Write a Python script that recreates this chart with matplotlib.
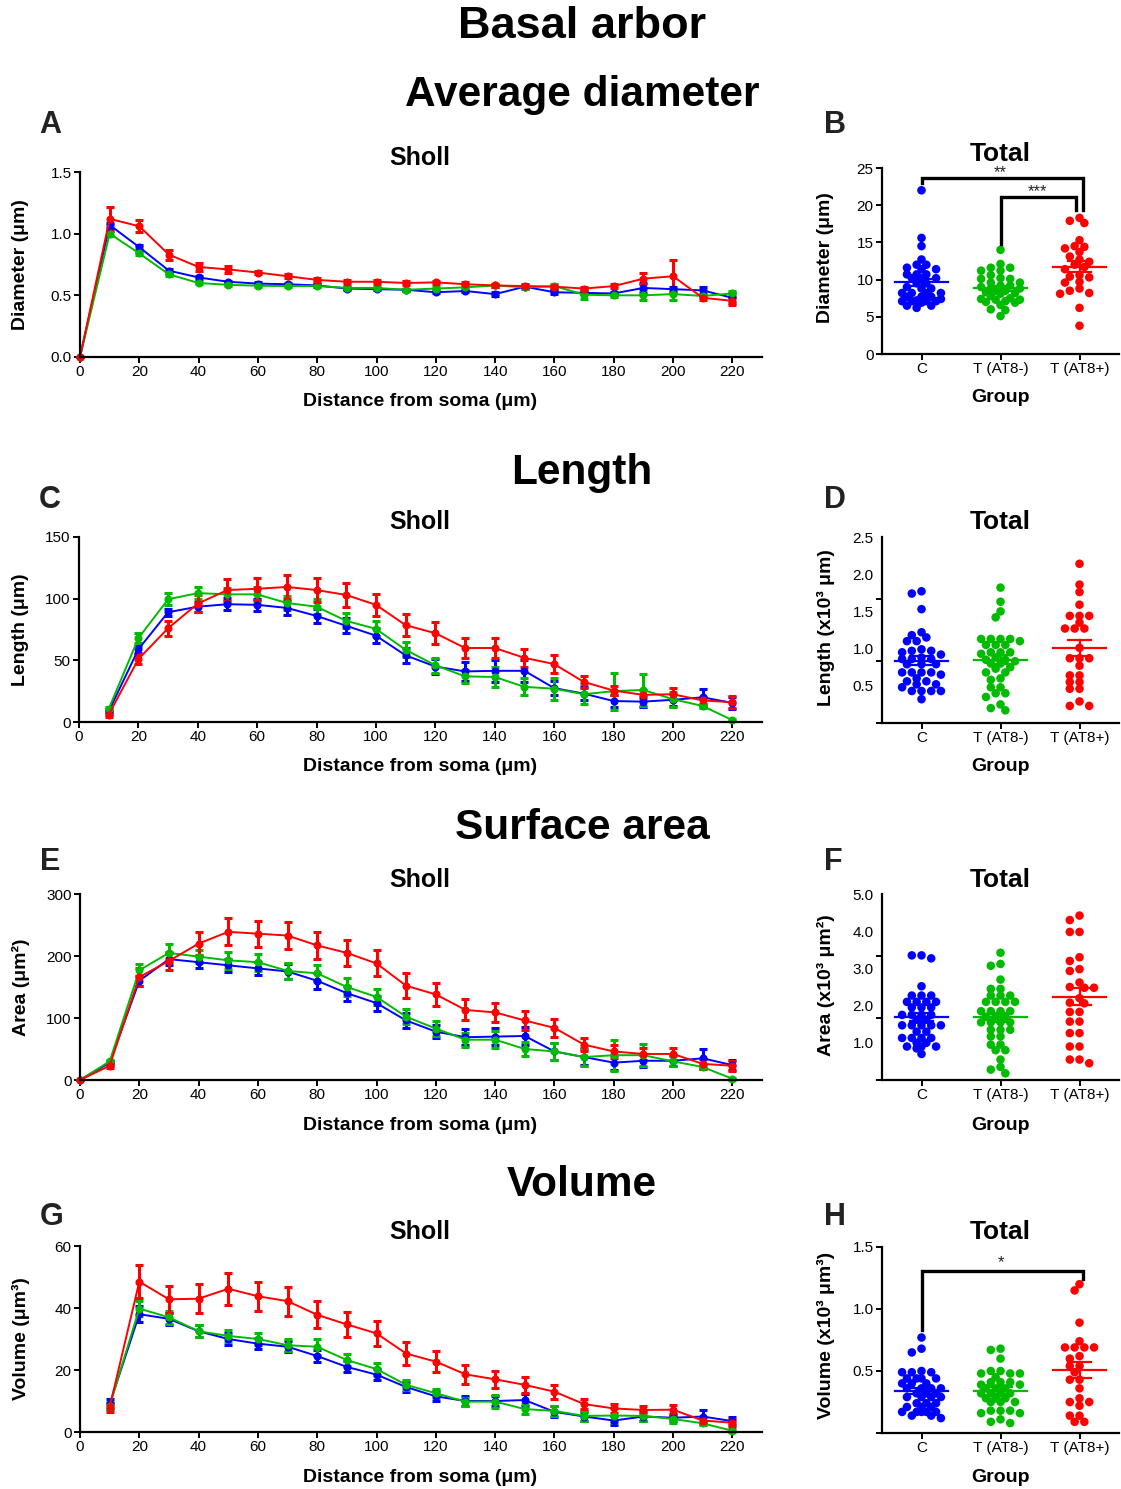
import numpy as np
import matplotlib
matplotlib.use('Agg')
import matplotlib.pyplot as plt
from matplotlib.ticker import FixedLocator

plt.rcParams['font.family'] = ['Liberation Sans', 'DejaVu Sans']

# ---------------- data ----------------
groups = ['C', 'T (AT8-)', 'T (AT8+)']
colors = ['#0000ff', '#00bb00', '#ff0000']

dist0 = list(range(0, 221, 10))     # with point at 0
dist10 = list(range(10, 221, 10))   # starting at 10

# A: diameter (Sholl)
diam_C = [0, 1.07, 0.89, 0.70, 0.645, 0.61, 0.595, 0.59, 0.58, 0.555, 0.55, 0.545, 0.525, 0.535, 0.51, 0.57, 0.525, 0.52, 0.515, 0.56, 0.55, 0.54, 0.48]
diam_C_sem = [0, 0.02, 0.02, 0.015, 0.015, 0.01, 0.01, 0.01, 0.01, 0.01, 0.01, 0.01, 0.01, 0.01, 0.015, 0.01, 0.015, 0.01, 0.015, 0.04, 0.02, 0.03, 0.04]
diam_N = [0, 1.00, 0.84, 0.67, 0.60, 0.585, 0.578, 0.575, 0.575, 0.56, 0.56, 0.545, 0.555, 0.565, 0.58, 0.565, 0.575, 0.505, 0.50, 0.50, 0.51, 0.495, 0.515]
diam_N_sem = [0, 0.02, 0.015, 0.012, 0.01, 0.01, 0.01, 0.01, 0.01, 0.01, 0.01, 0.01, 0.01, 0.01, 0.015, 0.01, 0.02, 0.035, 0.015, 0.04, 0.05, 0.01, 0.02]
diam_P = [0, 1.12, 1.06, 0.83, 0.73, 0.71, 0.685, 0.655, 0.625, 0.61, 0.61, 0.60, 0.605, 0.59, 0.58, 0.575, 0.57, 0.555, 0.575, 0.635, 0.655, 0.48, 0.455]
diam_P_sem = [0, 0.10, 0.05, 0.04, 0.03, 0.03, 0.015, 0.015, 0.015, 0.015, 0.015, 0.015, 0.015, 0.015, 0.015, 0.015, 0.015, 0.015, 0.015, 0.045, 0.13, 0.015, 0.03]

# C: length (Sholl)
len_C = [8.6, 59, 89, 93.5, 95.5, 95, 92.5, 86, 78, 70, 54, 45, 41, 41.5, 41.5, 27.5, 23, 17, 16.5, 18, 20, 15.5]
len_C_sem = [2, 3, 3, 4, 5, 5, 6, 6, 6, 6, 6, 6, 8, 9, 9, 6, 5, 5, 4, 5, 7, 5]
len_N = [10.5, 68, 99.5, 104.5, 103.5, 103.5, 96.5, 93.5, 82, 75.5, 58.5, 46, 37, 36.5, 28.5, 27, 22.5, 25, 26, 18.5, 13, 1.5]
len_N_sem = [2, 4, 5, 5, 5, 6, 6, 6, 6, 6, 6, 6, 5, 8, 7, 9, 8, 15, 13, 6, 2, 1]
len_P = [6, 51, 76, 96, 107, 108, 109.5, 107, 103, 95, 78.5, 72, 60, 60, 52, 47, 32.5, 25.5, 22, 22.5, 17.5, 16]
len_P_sem = [2, 4, 6, 7, 9, 9, 10, 10, 10, 9, 9, 9, 8, 8, 7, 7, 5, 4, 4, 5, 3, 5]

# E: area (Sholl)
area_C = [0, 28, 160, 195, 190, 185, 180, 175, 160, 140, 124, 96, 78, 69, 70, 71, 46, 37, 28, 31, 31, 35, 24]
area_C_sem = [0, 3, 8, 10, 10, 10, 10, 12, 13, 12, 12, 12, 11, 13, 14, 15, 14, 13, 12, 10, 9, 15, 8]
area_N = [0, 30, 177, 205, 199, 193, 190, 176, 172, 150, 134, 102, 83, 65, 65, 50, 46, 37, 40, 40, 30, 21, 2]
area_N_sem = [0, 3, 10, 14, 11, 14, 14, 13, 13, 14, 13, 12, 12, 11, 14, 12, 14, 14, 25, 18, 8, 4, 2]
area_P = [0, 23, 166, 192, 220, 239, 236, 233, 217, 205, 188, 152, 138, 113, 109, 96, 84, 57, 46, 42, 42, 26, 23]
area_P_sem = [0, 4, 15, 14, 19, 22, 21, 22, 22, 21, 21, 20, 18, 17, 16, 15, 14, 10, 10, 10, 10, 8, 8]

# G: volume (Sholl)
vol_C = [9, 38, 36.5, 32.5, 30, 28.5, 27.5, 24.5, 21, 18.5, 14.5, 11.5, 10, 10, 10.3, 6.5, 5, 3.7, 5, 4.6, 5, 3.5]
vol_C_sem = [1.5, 2.5, 2, 2, 1.8, 1.8, 1.8, 2, 1.8, 1.8, 1.6, 1.6, 1.5, 1.7, 2, 1.8, 1.5, 1.5, 1.5, 1.2, 2.2, 1.2]
vol_N = [8.5, 39.8, 37, 32.5, 31, 30, 28, 27.5, 23.2, 20.3, 15.2, 12.5, 9.8, 9.8, 7.4, 6.8, 5.2, 5.3, 5.2, 4.2, 2.8, 0.4]
vol_N_sem = [1.2, 2.5, 2, 2, 2, 2, 2, 2.5, 2, 2, 1.5, 1.5, 1.3, 2, 1.5, 1.5, 1.5, 2.5, 1.8, 1.2, 0.5, 0.3]
vol_P = [8, 48.5, 42.8, 43, 46.2, 43.8, 42.2, 37.8, 34.7, 31.8, 25.3, 22.7, 18.6, 17, 15.2, 13, 9, 7.6, 7.1, 7.2, 3.7, 3]
vol_P_sem = [1.5, 5.3, 4.3, 4.7, 5.2, 4.7, 4.7, 4.3, 4, 4, 3.8, 3.3, 3, 2.8, 2.5, 2.2, 1.6, 1.4, 1.4, 1.6, 1, 1.3]

# B: total diameter (µm)
totdiam_C = [22.0, 15.6, 14.5, 12.7, 12.0, 12.0, 11.6, 11.4, 11.4, 10.7, 10.7, 10.7, 10.2, 10.2, 10.2, 9.5, 9.5, 9.0, 8.8, 8.8, 8.2, 8.2, 8.2, 8.2, 7.7, 7.7, 7.7, 7.4, 7.2, 7.1, 7.1, 7.1, 7.1, 6.9, 6.5, 6.5, 6.2]
totdiam_N = [14.0, 12.1, 11.6, 11.6, 11.2, 11.2, 10.6, 10.2, 10.1, 10.1, 9.6, 9.6, 9.2, 9.2, 9.0, 8.8, 8.8, 8.5, 8.5, 8.3, 8.2, 8.1, 7.8, 7.5, 7.4, 7.3, 7.3, 7.1, 7.0, 6.9, 6.6, 6.0, 5.9, 5.1]
totdiam_P = [18.3, 17.9, 17.6, 15.3, 14.5, 14.4, 14.2, 13.7, 13.1, 12.7, 12.4, 12.0, 11.7, 11.4, 10.6, 10.4, 10.3, 9.7, 9.6, 8.8, 8.5, 8.2, 8.1, 6.2, 3.8]

# D: total length (x10^3 µm)
totlen_C = [1.77, 1.74, 1.53, 1.22, 1.18, 1.15, 1.10, 1.10, 0.99, 0.97, 0.97, 0.95, 0.92, 0.88, 0.86, 0.86, 0.86, 0.79, 0.79, 0.79, 0.68, 0.68, 0.68, 0.68, 0.65, 0.60, 0.56, 0.56, 0.52, 0.52, 0.48, 0.43, 0.43, 0.43, 0.43, 0.32]
totlen_N = [1.82, 1.63, 1.50, 1.42, 1.13, 1.13, 1.13, 1.13, 1.10, 1.05, 1.05, 1.05, 0.95, 0.95, 0.95, 0.93, 0.88, 0.85, 0.85, 0.83, 0.80, 0.80, 0.75, 0.73, 0.68, 0.68, 0.60, 0.58, 0.48, 0.48, 0.40, 0.40, 0.35, 0.25, 0.20, 0.17]
totlen_P = [2.14, 1.86, 1.76, 1.59, 1.44, 1.44, 1.44, 1.35, 1.27, 1.27, 1.27, 1.01, 0.87, 0.87, 0.87, 0.77, 0.64, 0.64, 0.55, 0.55, 0.46, 0.46, 0.29, 0.23, 0.23]

# F: total area (x10^3 µm²)
totarea_C = [3.35, 3.35, 3.27, 2.52, 2.27, 2.27, 2.27, 2.10, 2.10, 2.10, 2.10, 1.95, 1.95, 1.95, 1.75, 1.75, 1.75, 1.75, 1.62, 1.62, 1.47, 1.47, 1.47, 1.47, 1.47, 1.30, 1.30, 1.13, 1.13, 1.13, 1.13, 1.00, 1.00, 0.90, 0.90, 0.90, 0.85, 0.70]
totarea_N = [3.42, 3.12, 3.07, 2.70, 2.45, 2.45, 2.27, 2.27, 2.27, 2.10, 2.10, 2.10, 2.10, 1.85, 1.85, 1.85, 1.85, 1.70, 1.70, 1.70, 1.55, 1.55, 1.55, 1.55, 1.35, 1.35, 1.35, 1.17, 1.17, 0.95, 0.95, 0.80, 0.80, 0.55, 0.35, 0.28, 0.18]
totarea_P = [4.42, 4.30, 3.98, 3.98, 3.30, 3.20, 2.98, 2.93, 2.62, 2.50, 2.48, 2.48, 2.20, 2.08, 2.06, 1.83, 1.83, 1.57, 1.57, 1.26, 1.26, 0.90, 0.90, 0.55, 0.55, 0.45]

# H: total volume (x10^3 µm³)
totvol_C = [0.77, 0.68, 0.65, 0.50, 0.49, 0.49, 0.49, 0.44, 0.44, 0.44, 0.44, 0.40, 0.40, 0.40, 0.36, 0.36, 0.36, 0.36, 0.32, 0.32, 0.32, 0.29, 0.29, 0.29, 0.29, 0.24, 0.24, 0.24, 0.21, 0.21, 0.21, 0.17, 0.17, 0.17, 0.17, 0.17, 0.14, 0.14, 0.12]
totvol_N = [0.68, 0.67, 0.60, 0.50, 0.50, 0.48, 0.48, 0.48, 0.45, 0.41, 0.41, 0.41, 0.39, 0.39, 0.36, 0.36, 0.36, 0.32, 0.32, 0.32, 0.32, 0.28, 0.28, 0.28, 0.25, 0.25, 0.25, 0.18, 0.18, 0.18, 0.16, 0.16, 0.11, 0.09, 0.08]
totvol_P = [1.20, 1.15, 0.89, 0.74, 0.69, 0.69, 0.69, 0.69, 0.62, 0.60, 0.54, 0.54, 0.49, 0.43, 0.43, 0.36, 0.28, 0.25, 0.25, 0.22, 0.14, 0.14, 0.09, 0.09]

# ---------------- layout helpers ----------------
W, H = 1121, 1489
fig = plt.figure(figsize=(W / 100, H / 100), dpi=100)


def ax_px(l, t, r, b):
    return fig.add_axes([l / W, 1 - b / H, (r - l) / W, (b - t) / H])


def ftext(x, y, s, rot=0, **kw):
    fig.text(x / W, 1 - y / H, s, ha='center', va='center', rotation=rot, **kw)


def style_axes(ax):
    for s in ('top', 'right'):
        ax.spines[s].set_visible(False)
    for s in ('left', 'bottom'):
        ax.spines[s].set_linewidth(1.6)
    ax.tick_params(direction='out', length=4, width=1.4, labelsize=11, pad=2)


def sholl(ax, x, series, ylim, ystep, fmt):
    for (y, e), col in zip(series, colors):
        ax.errorbar(x, y, yerr=e, color=col, lw=1.4, marker='o', ms=4.8,
                    capsize=2.8, capthick=2.2, elinewidth=2.2, clip_on=False)
    ax.set_xlim(0, 230)
    ax.set_ylim(0, ylim)
    ax.set_xticks(list(range(0, 221, 20)))
    ax.set_yticks(np.arange(0, ylim + 1e-9, ystep))
    ax.set_yticklabels([fmt.format(v) for v in np.arange(0, ylim + 1e-9, ystep)])
    style_axes(ax)


def grid_swarm_x(ax, xc, vals, slot=4.85, nside=4, dmin=6.6):
    """Column scatter on a fixed grid of x slots (GraphPad-like)."""
    t = ax.transData
    ppu = t.transform((1, 0))[0] - t.transform((0, 0))[0]
    py = np.array([t.transform((xc, v))[1] for v in vals])
    ks = [0]
    for k in range(1, nside + 1):
        ks += [-k, k]
    order = np.argsort(-np.asarray(vals), kind='stable')
    placed = []
    xs = np.zeros(len(vals))
    for i in order:
        best_k, best_d = None, -1
        for k in ks:
            px = k * slot
            d = min([np.hypot(px - qx, py[i] - qy) for qx, qy in placed] or [1e9])
            if d >= dmin:
                best_k = k
                break
            if d > best_d:
                best_d, best_k = d, k
        placed.append((best_k * slot, py[i]))
        xs[i] = xc + best_k * slot / ppu
    return xs


def total(ax, data, ylim):
    ax.set_xlim(-0.5, 2.5)
    ax.set_ylim(*ylim)
    for k, (vals, col) in enumerate(zip(data, colors)):
        vals = np.asarray(vals, float)
        xs = grid_swarm_x(ax, k, vals)
        ax.scatter(xs, vals, s=38, color=col, edgecolors='none', zorder=3, clip_on=False)
        m = vals.mean()
        se = vals.std(ddof=1) / np.sqrt(len(vals))
        ax.plot([k - 0.34, k + 0.34], [m, m], color=col, lw=1.6, zorder=4)
        ax.plot([k, k], [m - se, m + se], color=col, lw=1.6, zorder=4)
        for yy in (m - se, m + se):
            ax.plot([k - 0.15, k + 0.15], [yy, yy], color=col, lw=1.6, zorder=4)
    ax.set_xticks([0, 1, 2])
    ax.set_xticklabels(groups)
    style_axes(ax)


def bracket(ax, x1, y1, x2, y2, ytop, text, ty, tx):
    ax.plot([x1, x1, x2, x2], [y1, ytop, ytop, y2], color='black', lw=2.4,
            solid_joinstyle='miter', clip_on=False, zorder=5)
    ax.text(tx, ty, text, ha='center', va='center', fontsize=12, color='#222222')


# ---------------- titles ----------------
ftext(582, 27, 'Basal arbor', fontsize=32.5, fontweight='bold')
ftext(582, 95, 'Average diameter', fontsize=30.5, fontweight='bold')
ftext(582, 473, 'Length', fontsize=30.5, fontweight='bold')
ftext(582, 828, 'Surface area', fontsize=30.5, fontweight='bold')
ftext(582, 1185, 'Volume', fontsize=30.5, fontweight='bold')

for lab, x, y in [('A', 50, 125), ('B', 835, 125), ('C', 50, 500), ('D', 835, 500),
                  ('E', 50, 862), ('F', 833, 862), ('G', 52, 1217), ('H', 835, 1217)]:
    ftext(x, y, lab, fontsize=22, fontweight='bold', color='#222222')

rows = [(172, 357, 158, 402), (537, 722, 522, 767), (894, 1080, 880, 1125), (1246, 1432, 1232, 1477)]
ylabels_l = ['Diameter (μm)', 'Length (μm)', 'Area (μm²)', 'Volume (μm³)']
ylabels_r = ['Diameter (μm)', 'Length (x10³ μm)', 'Area (x10³ μm²)', 'Volume (x10³ μm³)']

# ---------------- line plots ----------------
axA = ax_px(80, rows[0][0], 762, rows[0][1])
sholl(axA, dist0, [(diam_C, diam_C_sem), (diam_N, diam_N_sem), (diam_P, diam_P_sem)], 1.5, 0.5, '{:.1f}')
axC = ax_px(79, rows[1][0], 762, rows[1][1])
sholl(axC, dist10, [(len_C, len_C_sem), (len_N, len_N_sem), (len_P, len_P_sem)], 150, 50, '{:.0f}')
axE = ax_px(80, rows[2][0], 762, rows[2][1])
sholl(axE, dist0, [(area_C, area_C_sem), (area_N, area_N_sem), (area_P, area_P_sem)], 300, 100, '{:.0f}')
axG = ax_px(80, rows[3][0], 762, rows[3][1])
sholl(axG, dist10, [(vol_C, vol_C_sem), (vol_N, vol_N_sem), (vol_P, vol_P_sem)], 60, 20, '{:.0f}')

for (top, bot, ty, xl), yl in zip(rows, ylabels_l):
    ftext(420, ty, 'Sholl', fontsize=18, fontweight='bold')
    ftext(420, xl, 'Distance from soma (μm)', fontsize=14, fontweight='bold')
    ftext(21, (top + bot) / 2, yl, rot=90, fontsize=14, fontweight='bold')

# ---------------- scatter plots ----------------
axB = ax_px(882, 168, 1119, 354)
total(axB, [totdiam_C, totdiam_N, totdiam_P], (0, 25))
axB.set_yticks([0, 5, 10, 15, 20, 25])
bracket(axB, 0, 23.0, 2.05, 19.4, 23.65, '**', 24.35, 1.0)
bracket(axB, 1.0, 14.8, 1.95, 19.4, 21.1, '***', 21.8, 1.47)

axD = ax_px(882, 537, 1119, 723)
total(axD, [totlen_C, totlen_N, totlen_P], (0, 2.5))
axD.yaxis.set_major_locator(FixedLocator([0.5, 1.0, 1.5, 2.0, 2.5]))
axD.set_yticklabels(['0.5', '1.0', '1.5', '2.0', '2.5'])
axD.tick_params(axis='y', which='major', length=0, pad=6)
axD.yaxis.set_minor_locator(FixedLocator([0, 2.5 / 3, 5 / 3, 2.5]))
axD.tick_params(axis='y', which='minor', length=4, width=1.4, direction='out')

axF = ax_px(882, 894, 1119, 1080)
total(axF, [totarea_C, totarea_N, totarea_P], (0, 5.0))
axF.yaxis.set_major_locator(FixedLocator([1.0, 2.0, 3.0, 4.0, 5.0]))
axF.set_yticklabels(['1.0', '2.0', '3.0', '4.0', '5.0'])
axF.tick_params(axis='y', which='major', length=0, pad=6)
axF.yaxis.set_minor_locator(FixedLocator([0, 5 / 3, 10 / 3, 5.0]))
axF.tick_params(axis='y', which='minor', length=4, width=1.4, direction='out')

axH = ax_px(882, 1247, 1119, 1433)
total(axH, [totvol_C, totvol_N, totvol_P], (0, 1.5))
axH.set_yticks([0, 0.5, 1.0, 1.5])
axH.set_yticklabels(['', '0.5', '1.0', '1.5'])
bracket(axH, 0, 0.83, 2.05, 1.24, 1.31, '*', 1.37, 1.0)

for (top, bot, ty, xl), yl, yc in zip(rows, ylabels_r, [258, 628, 985, 1335]):
    ftext(1000, ty - 4 if top == 172 else ty, 'Total', fontsize=19, fontweight='bold')
    ftext(1000, xl - 4 if top == 172 else xl, 'Group', fontsize=14, fontweight='bold')
    ftext(826, yc, yl, rot=90, fontsize=14, fontweight='bold')

fig.savefig('out.png', dpi=100, facecolor='white')
